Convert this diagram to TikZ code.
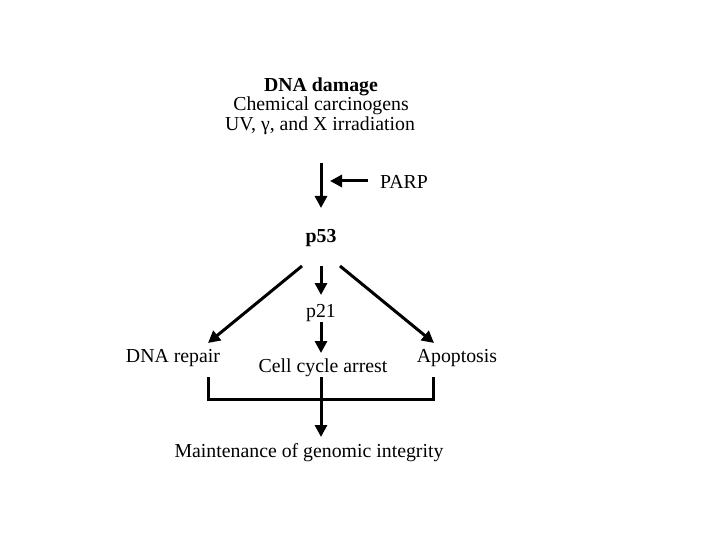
\documentclass[tikz,border=0pt]{standalone}
\usepackage{fontspec}
\setmainfont{Liberation Serif}
\usetikzlibrary{arrows.meta}
\begin{document}
\begin{tikzpicture}[x=1pt,y=-1pt,
  lbl/.style={inner sep=0pt,font=\fontsize{19.8}{22}\selectfont},
  blbl/.style={lbl,font=\fontsize{19.8}{22}\selectfont\bfseries},
  conn/.style={line width=3pt},
  arr/.style={conn,-{Triangle[length=12pt,width=12pt]}}]
\useasboundingbox[fill=white] (0,0) rectangle (720,540);
\node[blbl] (dd) at (321,87) {DNA damage};
\node[lbl] (cc) at (321,106) {Chemical carcinogens};
\node[lbl] (uv) at (320,126) {UV, γ, and X irradiation};
\coordinate (a1s) at (321,163);
\coordinate (a1e) at (321,208);
\coordinate (pe) at (330,181);
\node[lbl,anchor=west] (parp) at (380,182) {PARP};
\node[blbl] (p53) at (321,238) {p53};
\node[lbl] (p21) at (321,313) {p21};
\node[lbl] (rep) at (173,358) {DNA repair};
\node[lbl] (cca) at (323,368) {Cell cycle arrest};
\node[lbl] (apo) at (457,358) {Apoptosis};
\node[lbl] (mgi) at (309,453) {Maintenance of genomic integrity};
\coordinate (ls) at (302,266); \coordinate (le) at (208,343);
\coordinate (ms) at (321,266); \coordinate (me) at (321,295);
\coordinate (rs) at (340,266); \coordinate (re) at (434,343);
\coordinate (ps) at (321,322); \coordinate (pe2) at (321,353);
\coordinate (bl) at (208,377); \coordinate (br) at (433,377);
\coordinate (bm) at (321,377); \coordinate (be) at (321,437);
\draw[arr] (a1s) -- (a1e);
\draw[arr] (368,181) -- (pe);
\draw[arr] (ls) -- (le);
\draw[arr] (ms) -- (me);
\draw[arr] (rs) -- (re);
\draw[arr] (ps) -- (pe2);
\draw[conn] (bl) -- (bl |- 0,399) -- (br |- 0,399) -- (br);
\draw[arr] (bm) -- (be);
\end{tikzpicture}
\end{document}
